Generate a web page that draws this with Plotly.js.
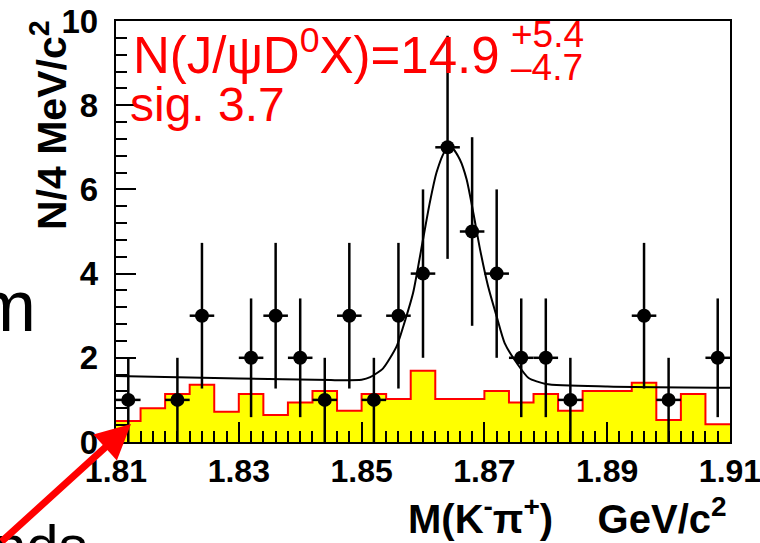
<!DOCTYPE html>
<html>
<head>
<meta charset="utf-8">
<script src="https://cdn.plot.ly/plotly-3.0.1.min.js"></script>
<style>html,body{margin:0;padding:0;background:#fff;}
#chart{width:760px;height:543px;}
#status{position:absolute;left:300px;top:200px;font:1px monospace;color:rgba(0,0,0,0);white-space:pre;}</style>
</head>
<body>
<div id="chart"></div>
<div id="status"></div>
<script>
// bin centres (4 MeV bins)
const binCenters = [1.812,1.816,1.820,1.824,1.828,1.832,1.836,1.840,1.844,1.848,
                    1.852,1.856,1.860,1.864,1.868,1.872,1.876,1.880,1.884,1.888,
                    1.892,1.896,1.900,1.904,1.908];
// data counts (null = empty bin, not drawn)
const dataCounts = [1,null,1,3,null,2,3,2,1,3,
                    1,3,4,7,5,4,2,2,1,null,
                    null,3,1,null,2];
const dataErrors = [1,null,1,1.73,null,1.41,1.73,1.41,1,1.73,
                    1,1.73,2,2.65,2.24,2,1.41,1.41,1,null,
                    null,1.73,1,null,1.41];
// yellow background histogram
const bgCounts = [0.50,0.80,1.14,1.36,0.72,1.14,0.64,0.94,1.21,0.74,
                  1.14,1.02,1.69,1.02,1.02,1.21,0.94,1.14,0.74,1.21,
                  1.21,1.41,0.52,1.14,0.42];
// fit curve
const fitX = [1.810,1.830,1.845,1.850,1.8514,1.8535,1.8557,1.8568,1.8584,1.8600,
              1.8611,1.8622,1.8636,1.8647,1.8660,1.8671,1.8682,1.8693,1.8706,1.8720,
              1.8733,1.8753,1.8772,1.8800,1.8900,1.9100];
const fitY = [1.57,1.51,1.47,1.48,1.54,1.75,2.27,2.75,3.55,4.81,
              5.68,6.40,6.91,6.99,6.71,6.24,5.44,4.57,3.70,2.98,
              2.35,1.87,1.52,1.38,1.32,1.29];
// axis ticks
const xRange = [1.81, 1.91];
const xTickStart = 1.81, xTickStep = 0.02, xMinorStep = 0.002;
const yRange = [0, 10];
const yTickStep = 2, yMinorStep = 0.4;

const halfW = (binCenters[1]-binCenters[0])/2;
const edgesX = binCenters.map(c => c - halfW).concat([binCenters[binCenters.length-1] + halfW]);
const edgesY = bgCounts.concat([bgCounts[bgCounts.length-1]]);

const traces = [
  {x: edgesX, y: edgesY, type:'scatter', mode:'lines', line:{shape:'hv', color:'#ff0000', width:2},
   fill:'tozeroy', fillcolor:'#ffff00', hoverinfo:'skip'},
  {x: binCenters, y: dataCounts, type:'scatter', mode:'markers',
   marker:{color:'#000', size:14, symbol:'circle'},
   error_y:{type:'data', array:dataErrors, color:'#000', thickness:2.5, width:0},
   error_x:{type:'constant', value:halfW, color:'#000', thickness:2.5, width:0}},
  {x: fitX, y: fitY, type:'scatter', mode:'lines', line:{color:'#000', width:2, shape:'spline', smoothing:0.6}}
];

const px = p => (p-116)/614;
const py = p => (442-p)/421;
const redFont = {family:'Liberation Sans', color:'#ff0000'};

const layout = {
  width:760, height:543,
  margin:{l:116, r:30, t:21, b:101, pad:0},
  showlegend:false,
  xaxis:{range:[xRange[0], xRange[1]+1e-9], tickmode:'linear', tick0:xTickStart, dtick:xTickStep, tickformat:'.2f',
         ticks:'inside', ticklen:20, tickwidth:2, ticklabeloverflow:'allow',
         tickcolor:'#000', showline:true, linecolor:'#000', linewidth:2, mirror:true, showgrid:false, zeroline:false,
         minor:{dtick:xMinorStep, ticks:'inside', ticklen:11, tickwidth:2, tickcolor:'#000'},
         tickfont:{family:'Liberation Sans', size:32, weight:'bold', color:'#000'}},
  yaxis:{range:yRange, tickmode:'linear', tick0:0, dtick:yTickStep, ticks:'inside', ticklen:20, tickwidth:2,
         tickcolor:'#000', showline:true, linecolor:'#000', linewidth:2, mirror:true, showgrid:false, zeroline:false,
         minor:{dtick:yMinorStep, ticks:'inside', ticklen:11, tickwidth:2, tickcolor:'#000'},
         ticksuffix:'\u00a0', tickfont:{family:'Liberation Sans', size:33, weight:'bold', color:'#000'}},
  annotations:[
    {xref:'paper', yref:'paper', x:px(131), y:py(52), xanchor:'left', yanchor:'middle', showarrow:false,
     text:'N(J/ψD<sup>0</sup>X)=14.9', font:Object.assign({size:51}, redFont)},
    {xref:'paper', yref:'paper', x:px(128), y:py(104), xanchor:'left', yanchor:'middle', showarrow:false,
     text:'sig. 3.7', font:Object.assign({size:48}, redFont)},
    {xref:'paper', yref:'paper', x:px(509), y:py(34), xanchor:'left', yanchor:'middle', showarrow:false,
     text:'+5.4', font:Object.assign({size:37}, redFont)},
    {xref:'paper', yref:'paper', x:px(509), y:py(67), xanchor:'left', yanchor:'middle', showarrow:false,
     text:'–4.7', font:Object.assign({size:37}, redFont)},
    {xref:'paper', yref:'paper', x:px(49), y:py(125), xanchor:'center', yanchor:'middle', showarrow:false, textangle:-90,
     text:'N/4 MeV/c<sup>2</sup>', font:{family:'Liberation Sans', size:41, weight:'bold', color:'#000'}},
    {xref:'paper', yref:'paper', x:px(729), y:py(516), xanchor:'right', yanchor:'middle', showarrow:false,
     text:'M(K<sup>-</sup>π<sup>+</sup>)\u00a0\u00a0\u00a0\u00a0GeV/c<sup>2</sup>',
     font:{family:'Liberation Sans', size:40, weight:'bold', color:'#000'}},
    {xref:'paper', yref:'paper', x:px(38), y:py(306), xanchor:'right', yanchor:'middle', showarrow:false,
     text:'m', font:{family:'Liberation Sans', size:72, color:'#000'}},
    {xref:'paper', yref:'paper', x:px(-8), y:py(545), xanchor:'left', yanchor:'middle', showarrow:false,
     text:'nds', font:{family:'Liberation Sans', size:58, color:'#000'}},
    {xref:'paper', yref:'paper', x:px(131), y:py(424), text:'', showarrow:true, arrowhead:2, arrowsize:1,
     arrowwidth:7, arrowcolor:'#ff0000', ax:-183, ay:123, standoff:0}
  ]
};

Plotly.newPlot('chart', traces, layout, {displayModeBar:false, staticPlot:true}).then(function(gd){
  const st = document.getElementById('status');
  st.textContent = 'ticks ' + document.querySelectorAll('path.xtick, path.ytick').length;
  gd.style.transform = 'translateZ(0)';
  requestAnimationFrame(function(){ gd.style.transform = ''; st.textContent += '.'; });
});
</script>
</body>
</html>
